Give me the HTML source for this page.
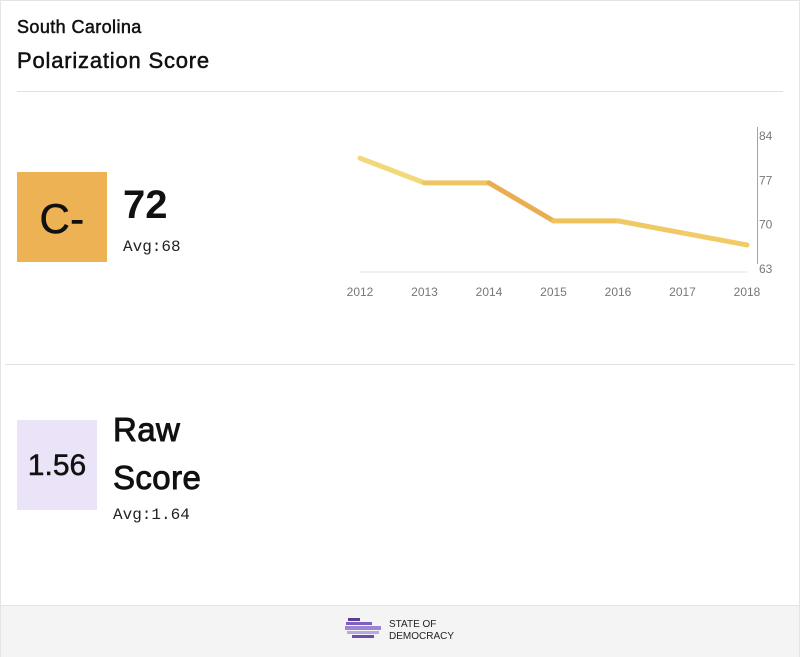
<!DOCTYPE html>
<html><head><meta charset="utf-8"><style>
body{margin:0;width:800px;height:657px;background:#fff;font-family:"Liberation Sans",sans-serif;overflow:hidden;position:relative}
.frame{position:absolute;left:0;top:0;width:798px;height:655px;border:1px solid #e4e4e4}
.abs{position:absolute}
.mono{font-family:"Liberation Mono",monospace}
.med{-webkit-text-stroke:0.5px #111;letter-spacing:0.4px}
</style></head><body>
<div class="frame"></div>
<div class="abs med" style="left:17px;top:17px;font-size:18px;color:#111">South Carolina</div>
<div class="abs med" style="left:17px;top:48px;font-size:22px;color:#111;letter-spacing:0.8px">Polarization Score</div>
<div class="abs" style="left:17px;top:91px;width:766px;height:1px;background:#e0e0e0"></div>
<div class="abs med" style="left:17px;top:172px;width:90px;height:90px;background:#ecb254;font-size:42px;line-height:94px;text-align:center;color:#111">C-</div>
<div class="abs" style="left:123px;top:183px;font-size:40px;font-weight:bold;color:#111">72</div>
<div class="abs mono" style="left:123px;top:238px;font-size:16px;color:#222">Avg:68</div>
<svg class="abs" style="left:0;top:0" width="800" height="320" id="chart"></svg>
<div class="abs" style="left:5px;top:364px;width:790px;height:1px;background:#e0e0e0"></div>
<div class="abs med" style="left:17px;top:420px;width:80px;height:90px;background:#ebe4f8;font-size:30px;line-height:92px;text-align:center;color:#111;letter-spacing:0">1.56</div>
<div class="abs med" style="left:113px;top:406px;font-size:33px;line-height:48px;color:#111;-webkit-text-stroke:0.9px #111">Raw<br>Score</div>
<div class="abs mono" style="left:113px;top:506px;font-size:16px;color:#222">Avg:1.64</div>
<div class="abs" style="left:1px;top:605px;width:798px;height:51px;background:#f4f4f4;border-top:1px solid #e4e4e4"></div>
<svg class="abs" style="left:345px;top:617px" width="40" height="24">
<rect x="3" y="1" width="12" height="3" fill="#5a3f98"/><rect x="1" y="5" width="26" height="3" fill="#7d60bf"/><rect x="0" y="9" width="36" height="4" fill="#9d85d4"/><rect x="2" y="14" width="32" height="3" fill="#b9a7e4"/><rect x="7" y="18" width="22" height="3" fill="#6a4fa8"/></svg>
<div class="abs" style="left:389px;top:619px;font-size:10px;line-height:12px;color:#222">STATE OF<br>DEMOCRACY</div>
<script>
const years=["2012","2013","2014","2015","2016","2017","2018"];
const values=[80.5,76.6,76.6,70.6,70.6,68.7,66.8];
const yTicks=[84,77,70,63];
const segColors=["#f1d878","#efc563","#e9ae51","#efc25c","#f0c865","#f1cc66"];
const svg=document.getElementById('chart');
const NS="http://www.w3.org/2000/svg";
const x0=360,x1=747,yTop=136,yBot=269;
const xs=i=>x0+(x1-x0)*i/(years.length-1);
const ys=v=>yBot-(v-63)/(84-63)*(yBot-yTop);
function mk(t,a){const e=document.createElementNS(NS,t);for(const k in a)e.setAttribute(k,a[k]);svg.appendChild(e);return e;}
let b=mk('line',{x1:360,y1:272,x2:747,y2:272,stroke:'#e2e2e2'});


let ax=mk('line',{x1:757.5,y1:127,x2:757.5,y2:264,stroke:'#9aa6ad'});


yTicks.forEach(v=>{const t=mk('text',{x:759,y:ys(v)+4,'font-size':12,fill:'#777','font-family':'Liberation Sans'});t.textContent=v;

});
years.forEach((y,i)=>{const t=mk('text',{x:xs(i),y:296,'font-size':12,fill:'#777','text-anchor':'middle','font-family':'Liberation Sans'});t.textContent=y;

});
for(let i=0;i<values.length-1;i++){const l=mk('line',{x1:xs(i),y1:ys(values[i]),x2:xs(i+1),y2:ys(values[i+1]),stroke:segColors[i],'stroke-width':5,'stroke-linecap':'round'});

}
</script>
</body></html>
